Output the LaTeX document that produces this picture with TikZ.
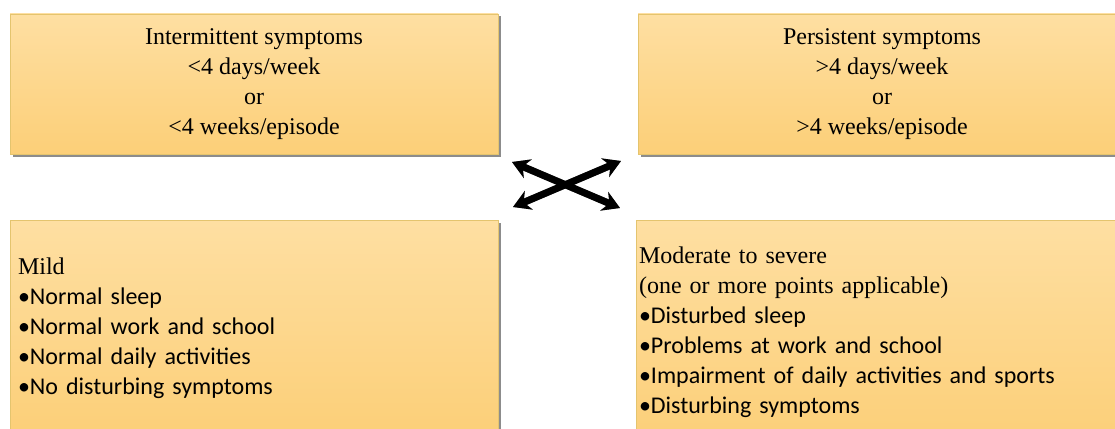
\documentclass[tikz,border=0pt]{standalone}
\usepackage{fontspec}
\setmainfont{Liberation Serif}
\newfontfamily\timesfont{Liberation Serif}
\newfontfamily\calibri{Carlito}
\usepackage{xcolor}
\usepackage{tikz}
\usetikzlibrary{positioning,arrows.meta,shadows}
\definecolor{boxtop}{RGB}{254,223,162}
\definecolor{boxbottom}{RGB}{252,207,120}
\definecolor{boxline}{RGB}{228,196,110}
\tikzset{
  classbox/.style={draw=boxline, line width=0.8pt, rectangle, top color=boxtop, bottom color=boxbottom,
    drop shadow={shadow xshift=2.5pt, shadow yshift=-2.5pt, fill=black!45, opacity=1},
    font=\timesfont\fontsize{24}{30}\selectfont, inner ysep=0pt},
  crossarrow/.style={{Stealth[length=17pt,width=20pt]}-{Stealth[length=17pt,width=20pt]}, line width=7pt, black}
}

\begin{document}
\begin{tikzpicture}[x=1pt, y=-1pt]
\useasboundingbox (0,0) rectangle (1115,428);
\clip (0,0) rectangle (1115,428);
% Nodes
\node[classbox, minimum width=488pt, minimum height=140pt, align=center] (intermittent) at (254,84)
  {Intermittent symptoms\\ <4 days/week\\ or\\ <4 weeks/episode};
\node[classbox, minimum width=488pt, minimum height=140pt, align=center] (persistent) at (882,84)
  {Persistent symptoms\\ >4 days/week\\ or\\ >4 weeks/episode};
\node[classbox, minimum width=488pt, minimum height=216pt, text width=472pt, inner xsep=8pt, align=left] (mild) at (254,328)
  {Mild\\ {\calibri •Normal sleep}\\ {\calibri •Normal work and school}\\ {\calibri •Normal daily activities}\\ {\calibri •No disturbing symptoms}};
\node[classbox, minimum width=490pt, minimum height=224pt, text width=484pt, inner xsep=3pt, align=left] (severe) at (881,332)
  {Moderate to severe\\ (one or more points applicable)\\ {\calibri •Disturbed sleep}\\ {\calibri •Problems at work and school}\\ {\calibri •Impairment of daily activities and sports}\\ {\calibri •Disturbing symptoms}};

% Arrow ends
\coordinate (upleft) at (512,162);
\coordinate (downright) at (620,208);
\coordinate (downleft) at (513,207);
\coordinate (upright) at (621,161);

% Arrows
\draw[crossarrow, black!50, shift={(1.5,2)}] (upleft) -- (downright);
\draw[crossarrow, black!50, shift={(1.5,2)}] (downleft) -- (upright);
\draw[crossarrow] (upleft) -- (downright);
\draw[crossarrow] (downleft) -- (upright);
\end{tikzpicture}
\end{document}
